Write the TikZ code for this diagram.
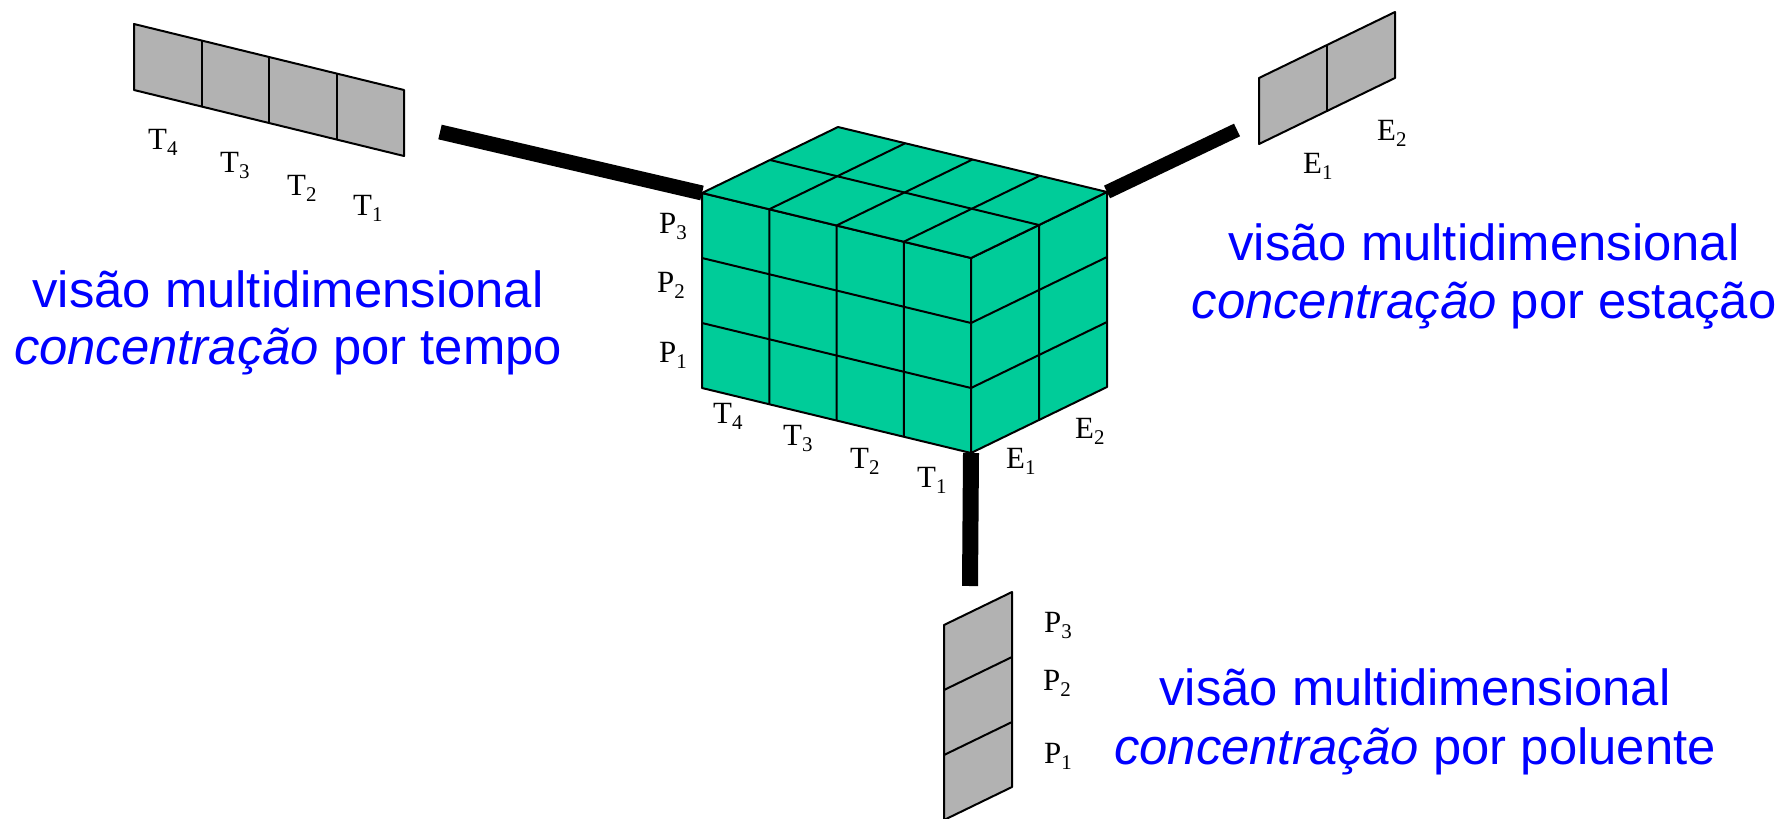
\documentclass[tikz,border=0pt]{standalone}
\usepackage{fontspec}
\setmainfont{Liberation Serif}
\newfontfamily\sansf{Liberation Sans}
\definecolor{cubegreen}{RGB}{0,204,153}
\definecolor{stripgray}{RGB}{178,178,178}
\definecolor{txtblue}{RGB}{0,0,255}
\newcommand{\lblsub}[2]{#1\raisebox{-6bp}{\fontsize{21}{21}\selectfont #2}}
\tikzset{
  cubeface/.style={fill=cubegreen, draw=black, line width=2bp, line join=round},
  gridline/.style={draw=black, line width=2bp},
  stripface/.style={fill=stripgray, draw=black, line width=2bp, line join=round},
  bar/.style={line width=15bp, line cap=butt, draw=black},
  dimlbl/.style={anchor=base west, inner sep=0pt, font=\fontsize{31}{31}\selectfont},
  bluetxt/.style={anchor=base, inner sep=0pt, text=txtblue, font=\sansf\fontsize{51}{56}\selectfont}
}
\begin{document}
\begin{tikzpicture}[x=1bp, y=-1bp]
\useasboundingbox[fill=white] (0,0) rectangle (1789,819);

% free ends of connectors
\coordinate (barL) at (440,132);
\coordinate (barR) at (1237,130);
\coordinate (barB) at (970,586);

% cube corners
\begin{scope}[shift={(702,388)}, x={(67.25bp,-16.25bp)}, y={(68bp,33bp)}, z={(0bp,65bp)}]
  \coordinate (cubeTL) at (0,0,3);
  \coordinate (cubeTR) at (4,2,3);
  \coordinate (cubeB) at (4,0,0);
\end{scope}

% connectors
\draw[bar] (barL) -- (cubeTL);
\draw[bar, line width=14bp] (barR) -- (cubeTR);
\draw[bar, line width=16bp] (barB) -- (cubeB);

% cube
\begin{scope}[shift={(702,388)}, x={(67.25bp,-16.25bp)}, y={(68bp,33bp)}, z={(0bp,65bp)}]
  \path[cubeface] (0,0,0) -- (4,0,0) -- (4,0,3) -- (0,0,3) -- cycle;
  \path[cubeface] (4,0,0) -- (4,2,0) -- (4,2,3) -- (4,0,3) -- cycle;
  \path[cubeface] (0,0,3) -- (4,0,3) -- (4,2,3) -- (0,2,3) -- cycle;
  \foreach \i in {1,2,3} {
    \draw[gridline] (\i,0,0) -- (\i,0,3) -- (\i,2,3);
  }
  \foreach \j in {1,2} {
    \draw[gridline] (0,0,\j) -- (4,0,\j) -- (4,2,\j);
  }
  \draw[gridline] (4,1,0) -- (4,1,3) -- (0,1,3);
\end{scope}

% time strip
\begin{scope}[shift={(134,90)}, x={(67.5bp,-16.5bp)}, y={(68bp,33bp)}, z={(0bp,66bp)}]
  \path[stripface] (0,0,0) -- (4,0,0) -- (4,0,1) -- (0,0,1) -- cycle;
  \foreach \i in {1,2,3} {
    \draw[gridline] (\i,0,0) -- (\i,0,1);
  }
\end{scope}

% station strip
\begin{scope}[shift={(1259,144)}, x={(67.25bp,-16.25bp)}, y={(68bp,33bp)}, z={(0bp,66bp)}]
  \path[stripface] (0,0,0) -- (0,2,0) -- (0,2,1) -- (0,0,1) -- cycle;
  \draw[gridline] (0,1,0) -- (0,1,1);
\end{scope}

% pollutant strip
\begin{scope}[shift={(944,820)}, x={(67.25bp,-16.25bp)}, y={(68bp,33bp)}, z={(0bp,65bp)}]
  \path[stripface] (0,0,0) -- (0,1,0) -- (0,1,3) -- (0,0,3) -- cycle;
  \draw[gridline] (0,0,1) -- (0,1,1);
  \draw[gridline] (0,0,2) -- (0,1,2);
\end{scope}

% labels: time strip
\node[dimlbl] (sT4) at (148,149) {\lblsub{T}{4}};
\node[dimlbl] (sT3) at (220,172) {\lblsub{T}{3}};
\node[dimlbl] (sT2) at (287,195) {\lblsub{T}{2}};
\node[dimlbl] (sT1) at (353,215) {\lblsub{T}{1}};
% labels: cube
\node[dimlbl] (cT4) at (713,423) {\lblsub{T}{4}};
\node[dimlbl] (cT3) at (783,445) {\lblsub{T}{3}};
\node[dimlbl] (cT2) at (850,468) {\lblsub{T}{2}};
\node[dimlbl] (cT1) at (917,487) {\lblsub{T}{1}};
\node[dimlbl] (cE1) at (1006,468) {\lblsub{E}{1}};
\node[dimlbl] (cE2) at (1075,438) {\lblsub{E}{2}};
\node[dimlbl] (cP3) at (659,233) {\lblsub{P}{3}};
\node[dimlbl] (cP2) at (657,292) {\lblsub{P}{2}};
\node[dimlbl] (cP1) at (659,362) {\lblsub{P}{1}};
% labels: station strip
\node[dimlbl] (sE1) at (1303,173) {\lblsub{E}{1}};
\node[dimlbl] (sE2) at (1377,140) {\lblsub{E}{2}};
% labels: pollutant strip
\node[dimlbl] (sP3) at (1044,632) {\lblsub{P}{3}};
\node[dimlbl] (sP2) at (1043,690) {\lblsub{P}{2}};
\node[dimlbl] (sP1) at (1044,763) {\lblsub{P}{1}};

% blue captions
\node[bluetxt] (tA1) at (288,307) {visão multidimensional};
\node[bluetxt] (tA2) at (288,364) {\textit{concentração} por tempo};
\node[bluetxt] (tB1) at (1484,260) {visão multidimensional};
\node[bluetxt] (tB2) at (1484,318) {\textit{concentração} por estação};
\node[bluetxt] (tC1) at (1415,705) {visão multidimensional};
\node[bluetxt] (tC2) at (1415,764) {\textit{concentração} por poluente};
\end{tikzpicture}
\end{document}
